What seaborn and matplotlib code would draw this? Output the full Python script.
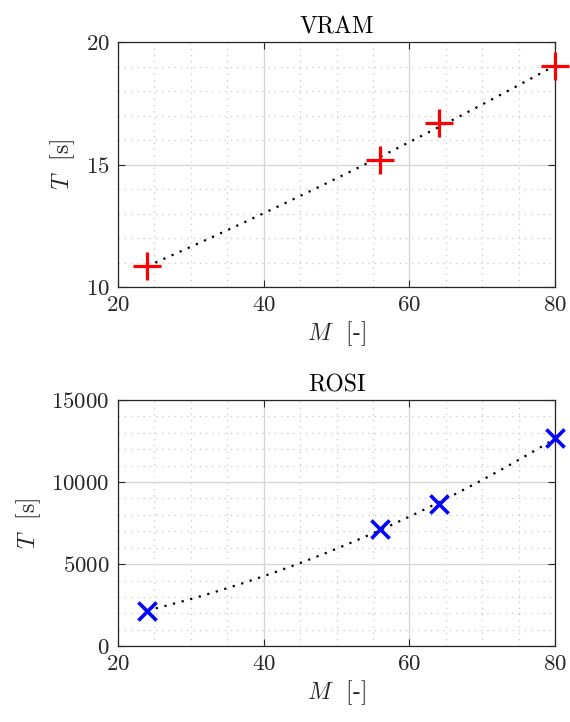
import matplotlib
matplotlib.use('Agg')
import matplotlib.pyplot as plt
import seaborn as sns
from matplotlib.ticker import MultipleLocator

# data
m_vals = [24, 56, 64, 80]
t_vram = [10.86, 15.18, 16.70, 19.01]
t_rosi = [2170, 7150, 8670, 12670]

sns.set_style('ticks')
plt.rcParams['font.family'] = ['cmr10', 'DejaVu Serif']
plt.rcParams['mathtext.fontset'] = 'cm'
plt.rcParams['axes.formatter.use_mathtext'] = True

txt = '#262626'

fig = plt.figure(figsize=(5.7, 7.22), dpi=100)
ax1 = fig.add_axes([0.207, 0.6025, 0.767, 0.339])
ax2 = fig.add_axes([0.207, 0.105, 0.767, 0.341])


def panel(ax, y, color, marker, title, ylim, ymaj, ymin, s, lw):
    sns.regplot(x=m_vals, y=y, order=2, ci=None, scatter=False, truncate=True,
                ax=ax, line_kws=dict(color='k', ls=(0, (1, 3)), lw=1.6))
    sns.scatterplot(x=m_vals, y=y, marker=marker, s=s, color=color,
                    linewidth=lw, ax=ax, zorder=3, clip_on=False)
    ax.set_xlim(20, 80)
    ax.set_ylim(*ylim)
    ax.xaxis.set_major_locator(MultipleLocator(20))
    ax.xaxis.set_minor_locator(MultipleLocator(5))
    ax.yaxis.set_major_locator(MultipleLocator(ymaj))
    ax.yaxis.set_minor_locator(MultipleLocator(ymin))
    ax.grid(which='major', color='#d4d4d4', ls='-', lw=0.9)
    ax.grid(which='minor', color='#c8c8c8', ls=(0, (1, 4)), lw=0.9)
    ax.set_axisbelow(True)
    ax.tick_params(which='major', direction='in', top=True, right=True,
                   length=5, width=0.8, labelsize=16.5, colors=txt, pad=6)
    ax.tick_params(which='minor', length=0)
    for sp in ax.spines.values():
        sp.set_color(txt)
        sp.set_linewidth(0.9)
    ax.set_title(title, fontsize=17, color='k', pad=6)
    ax.set_xlabel('$M$  [-]', fontsize=17, color=txt, labelpad=3)
    ax.set_ylabel('$T$  [s]', fontsize=17, color=txt, labelpad=6)


panel(ax1, t_vram, 'red', '+', 'VRAM', (10, 20), 5, 1, 380, 2.3)
panel(ax2, t_rosi, 'blue', 'x', 'ROSI', (0, 15000), 5000, 1000, 170, 2.6)

fig.savefig('out.png', dpi=100)
